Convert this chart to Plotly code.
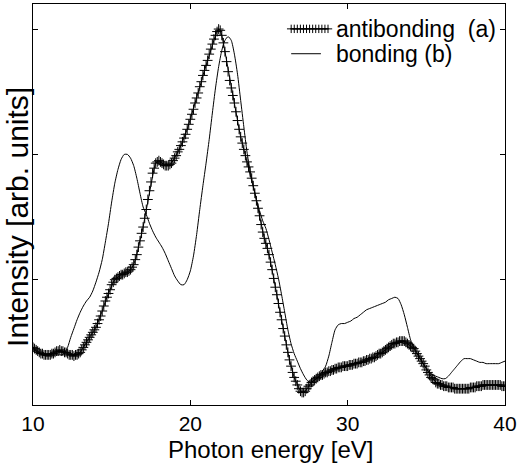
import numpy as np
import plotly.graph_objects as go

# Photon energy grids [eV]
energy_anti = np.round(np.arange(10.0, 40.0001, 0.1), 1)
energy_bond = np.round(np.arange(10.0, 40.0001, 0.2), 1)

# Antibonding spectrum (a), sampled every 0.1 eV from 10 to 40 eV
intensity_anti = [
    0.46, 0.45, 0.44, 0.43, 0.42, 0.41, 0.41, 0.40, 0.40, 0.40,
    0.40, 0.40, 0.41, 0.41, 0.42, 0.43, 0.43, 0.44, 0.43, 0.43,
    0.42, 0.42, 0.41, 0.40, 0.40, 0.40, 0.39, 0.40, 0.40, 0.41,
    0.42, 0.44, 0.46, 0.48, 0.50, 0.52, 0.54, 0.56, 0.58, 0.60,
    0.62, 0.65, 0.68, 0.71, 0.75, 0.79, 0.83, 0.86, 0.89, 0.92,
    0.96, 0.98, 1.00, 1.01, 1.02, 1.03, 1.04, 1.04, 1.05, 1.06,
    1.06, 1.07, 1.08, 1.10, 1.12, 1.16, 1.20, 1.26, 1.31, 1.37,
    1.42, 1.49, 1.56, 1.64, 1.71, 1.78, 1.85, 1.89, 1.93, 1.94,
    1.95, 1.94, 1.93, 1.92, 1.91, 1.91, 1.91, 1.92, 1.93, 1.95,
    1.97, 1.99, 2.02, 2.04, 2.07, 2.10, 2.13, 2.16, 2.20, 2.24,
    2.28, 2.32, 2.36, 2.41, 2.45, 2.49, 2.54, 2.58, 2.63, 2.67,
    2.71, 2.75, 2.80, 2.84, 2.88, 2.92, 2.95, 2.98, 3.00, 2.99,
    2.95, 2.89, 2.82, 2.74, 2.66, 2.59, 2.53, 2.47, 2.41, 2.34,
    2.27, 2.20, 2.14, 2.09, 2.04, 1.99, 1.94, 1.90, 1.86, 1.81,
    1.75, 1.69, 1.63, 1.57, 1.51, 1.44, 1.38, 1.33, 1.29, 1.25,
    1.20, 1.14, 1.08, 1.01, 0.94, 0.88, 0.81, 0.74, 0.68, 0.61,
    0.55, 0.48, 0.42, 0.36, 0.31, 0.26, 0.22, 0.19, 0.16, 0.13,
    0.11, 0.10, 0.10, 0.11, 0.13, 0.15, 0.16, 0.18, 0.19, 0.20,
    0.21, 0.22, 0.23, 0.24, 0.24, 0.25, 0.26, 0.26, 0.27, 0.27,
    0.28, 0.28, 0.29, 0.29, 0.30, 0.30, 0.30, 0.31, 0.31, 0.31,
    0.31, 0.32, 0.32, 0.32, 0.33, 0.33, 0.33, 0.34, 0.34, 0.34,
    0.35, 0.35, 0.36, 0.36, 0.37, 0.37, 0.38, 0.38, 0.39, 0.40,
    0.41, 0.41, 0.42, 0.43, 0.44, 0.45, 0.46, 0.47, 0.48, 0.49,
    0.49, 0.50, 0.50, 0.51, 0.51, 0.51, 0.51, 0.50, 0.49, 0.48,
    0.47, 0.46, 0.45, 0.43, 0.41, 0.39, 0.37, 0.35, 0.33, 0.31,
    0.28, 0.26, 0.24, 0.22, 0.21, 0.20, 0.18, 0.17, 0.17, 0.16,
    0.16, 0.15, 0.15, 0.15, 0.14, 0.14, 0.14, 0.14, 0.13, 0.13,
    0.13, 0.13, 0.13, 0.13, 0.13, 0.13, 0.13, 0.13, 0.14, 0.14,
    0.14, 0.14, 0.15, 0.15, 0.15, 0.15, 0.16, 0.16, 0.16, 0.16,
    0.16, 0.16, 0.16, 0.16, 0.16, 0.16, 0.16, 0.16, 0.15, 0.15,
    0.15,
]

# Bonding spectrum (b), sampled every 0.2 eV from 10 to 40 eV
intensity_bond = [
    0.45, 0.43, 0.41, 0.40, 0.39, 0.39, 0.39, 0.40, 0.40, 0.40,
    0.41, 0.46, 0.54, 0.61, 0.68, 0.74, 0.79, 0.83, 0.86, 0.91,
    0.98, 1.06, 1.16, 1.30, 1.45, 1.62, 1.77, 1.88, 1.96, 2.00,
    2.00, 1.97, 1.91, 1.81, 1.69, 1.58, 1.52, 1.45, 1.39, 1.34,
    1.30, 1.26, 1.21, 1.15, 1.09, 1.03, 0.99, 0.96, 0.96, 1.00,
    1.07, 1.19, 1.36, 1.56, 1.75, 1.93, 2.12, 2.33, 2.53, 2.70,
    2.83, 2.91, 2.94, 2.91, 2.80, 2.64, 2.43, 2.22, 2.02, 1.87,
    1.75, 1.64, 1.55, 1.47, 1.41, 1.32, 1.22, 1.12, 1.01, 0.88,
    0.74, 0.60, 0.49, 0.41, 0.35, 0.29, 0.24, 0.20, 0.18, 0.19,
    0.21, 0.23, 0.27, 0.31, 0.39, 0.50, 0.60, 0.64, 0.65, 0.65,
    0.66, 0.67, 0.69, 0.70, 0.72, 0.74, 0.76, 0.77, 0.78, 0.79,
    0.80, 0.81, 0.82, 0.84, 0.85, 0.86, 0.85, 0.80, 0.72, 0.62,
    0.52, 0.46, 0.42, 0.38, 0.33, 0.29, 0.26, 0.24, 0.23, 0.22,
    0.21, 0.21, 0.23, 0.26, 0.29, 0.32, 0.35, 0.37, 0.37, 0.37,
    0.36, 0.35, 0.34, 0.34, 0.33, 0.33, 0.33, 0.33, 0.33, 0.34,
    0.35,
]

x_ticks = [10, 20, 30, 40]
y_ticks = [1, 2, 3]
legend_labels = ["antibonding  (a)", "bonding (b)"]

FONT = "Liberation Sans, Arial, Helvetica, sans-serif"

fig = go.Figure()

fig.add_trace(go.Scatter(
    x=energy_bond, y=intensity_bond, mode="lines",
    line=dict(color="black", width=1, shape="spline", smoothing=0.6),
    showlegend=False, hoverinfo="skip",
))
fig.add_trace(go.Scatter(
    x=energy_anti, y=intensity_anti, mode="lines+markers",
    line=dict(color="black", width=1),
    marker=dict(symbol="cross-thin", size=7, line=dict(color="black", width=1)),
    showlegend=False, hoverinfo="skip",
))

# Hand-built legend on an overlay axis spanning the plot box (0..1)
lx0, lx1 = 0.547, 0.625
fig.add_trace(go.Scatter(
    x=np.linspace(lx0, lx1, 13), y=[0.938] * 13, mode="lines+markers",
    line=dict(color="black", width=1),
    marker=dict(symbol="cross-thin", size=6, line=dict(color="black", width=1)),
    xaxis="x2", yaxis="y2", showlegend=False, hoverinfo="skip",
))
fig.add_trace(go.Scatter(
    x=[lx0, 0.61], y=[0.876, 0.876], mode="lines",
    line=dict(color="black", width=1),
    xaxis="x2", yaxis="y2", showlegend=False, hoverinfo="skip",
))
for label, yy in zip(legend_labels, [0.938, 0.876]):
    fig.add_annotation(
        x=0.638, y=yy, xref="paper", yref="paper", text=label,
        showarrow=False, xanchor="left", yanchor="middle",
        font=dict(family=FONT, size=23, color="black"),
    )

# Axis titles
fig.add_annotation(
    x=0.503, y=-0.111, xref="paper", yref="paper", text="Photon energy [eV]",
    showarrow=False, xanchor="center", yanchor="middle",
    font=dict(family=FONT, size=24, color="black"),
)
fig.add_annotation(
    x=-0.033, y=0.47, xref="paper", yref="paper", text="Intensity [arb. units]",
    showarrow=False, textangle=-90, xanchor="center", yanchor="middle",
    font=dict(family=FONT, size=30, color="black"),
)

axis_common = dict(
    showline=True, linecolor="black", linewidth=1, mirror="ticks",
    ticks="inside", ticklen=5, tickwidth=1, tickcolor="black",
    showgrid=False, zeroline=False,
)

fig.update_layout(
    width=520, height=464,
    margin=dict(l=33, r=12, t=3, b=59),
    paper_bgcolor="white", plot_bgcolor="white",
    font=dict(family=FONT, color="black"),
    xaxis=dict(range=[10, 40], tickvals=x_ticks,
               tickfont=dict(family=FONT, size=21, color="black"),
               ticklabelstandoff=0, **axis_common),
    yaxis=dict(range=[0, 3.2], tickvals=y_ticks, showticklabels=False,
               **axis_common),
    xaxis2=dict(range=[0, 1], overlaying="x", visible=False),
    yaxis2=dict(range=[0, 1], overlaying="y", visible=False),
)

fig.write_html("out.html")
